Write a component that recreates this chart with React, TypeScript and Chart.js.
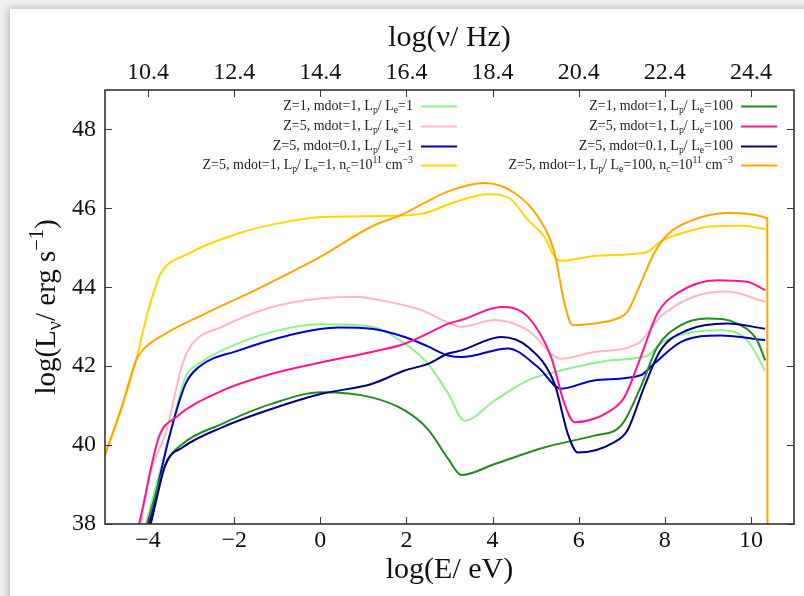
import React, { useEffect, useRef } from "react";
import { Chart, registerables } from "chart.js";

Chart.register(...registerables);

// ---------- data ----------
const xTicks = [-4, -2, 0, 2, 4, 6, 8, 10];
const xTickLabels = ["\u22124", "\u22122", "0", "2", "4", "6", "8", "10"];
const topTickLabels = ["10.4", "12.4", "14.4", "16.4", "18.4", "20.4", "22.4", "24.4"];
const yTicks = [38, 40, 42, 44, 46, 48];
const yTickLabels = ["38", "40", "42", "44", "46", "48"];

const seriesLabels = [
  "Z=1, mdot=1, L_{p}/ L_{e}=1",
  "Z=5, mdot=1, L_{p}/ L_{e}=1",
  "Z=5, mdot=0.1, L_{p}/ L_{e}=1",
  "Z=5, mdot=1, L_{p}/ L_{e}=1, n_{c}=10^{11} cm^{\u22123}",
  "Z=1, mdot=1, L_{p}/ L_{e}=100",
  "Z=5, mdot=1, L_{p}/ L_{e}=100",
  "Z=5, mdot=0.1, L_{p}/ L_{e}=100",
  "Z=5, mdot=1, L_{p}/ L_{e}=100, n_{c}=10^{11} cm^{\u22123}",
];
const seriesColors = ["#90ee90", "#ffb6c1", "#0000cd", "#ffd700", "#228b22", "#ff1493", "#000080", "#ffa500"];

const z1Lp1: number[][] = [
  [-4.2, 37.4], [-4.05, 38.0], [-3.51, 40.2], [-3.13, 41.72], [-2.82, 42.06], [-2.28, 42.4],
  [-1.12, 42.87], [0.03, 43.06], [1.19, 43.0], [1.96, 42.57], [2.5, 42.06], [2.97, 41.3],
  [3.35, 40.62], [4.05, 41.13], [4.82, 41.64], [5.59, 41.89], [6.75, 42.15], [7.6, 42.27],
  [7.9, 42.57], [8.67, 42.87], [9.29, 42.91], [9.91, 42.66], [10.33, 41.89],
];
const z5Lp1: number[][] = [
  [-4.25, 37.5], [-3.95, 39.3], [-3.59, 40.3], [-3.2, 42.06], [-2.97, 42.57], [-2.28, 43.0],
  [-1.12, 43.5], [0.03, 43.72], [0.8, 43.76], [1.58, 43.63], [2.35, 43.42], [2.97, 43.1],
  [3.28, 43.0], [4.05, 43.17], [4.82, 42.91], [5.59, 42.19], [6.36, 42.36], [7.37, 42.57],
  [7.9, 43.25], [8.67, 43.76], [9.45, 43.89], [10.33, 43.63],
];
const z5m01Lp1: number[][] = [
  [-4.15, 37.4], [-3.98, 38.0], [-3.51, 40.2], [-3.13, 41.55], [-2.82, 41.98], [-1.89, 42.4],
  [-0.74, 42.78], [0.42, 42.98], [1.19, 42.95], [1.96, 42.74], [2.5, 42.5], [2.97, 42.27],
  [3.28, 42.23], [4.36, 42.45], [5.05, 41.98], [5.59, 41.43], [6.36, 41.64], [7.44, 41.77],
  [7.75, 42.06], [8.37, 42.61], [9.29, 42.78], [10.33, 42.66],
];
const z5Lp1Nc: number[][] = [
  [-5.0, 39.75], [-4.6, 41.0], [-4.28, 42.15], [-4.0, 43.4], [-3.8, 44.1], [-3.71, 44.35],
  [-3.05, 44.86], [-1.89, 45.37], [-0.74, 45.67], [0.03, 45.78], [1.58, 45.81], [2.35, 45.86],
  [3.1, 46.15], [3.89, 46.36], [4.4, 46.25], [4.82, 45.71], [5.2, 45.28], [5.47, 44.73],
  [5.59, 44.67], [6.36, 44.79], [7.44, 44.86], [7.6, 44.9], [7.9, 45.16], [8.52, 45.41],
  [9.06, 45.54], [9.83, 45.56], [10.33, 45.47],
];
const z1Lp100: number[][] = [
  [-4.2, 37.3], [-4.02, 38.0], [-3.59, 39.52], [-3.2, 40.03], [-2.28, 40.54], [-1.12, 41.05],
  [0.03, 41.34], [1.19, 41.21], [1.96, 40.88], [2.5, 40.4], [2.97, 39.65], [3.28, 39.24],
  [4.05, 39.52], [5.2, 39.94], [6.36, 40.24], [6.98, 40.49], [7.44, 41.47], [7.83, 42.49],
  [8.37, 43.04], [8.98, 43.21], [9.68, 43.08], [10.14, 42.66], [10.33, 42.15],
];
const z5Lp100: number[][] = [
  [-4.4, 37.3], [-4.21, 38.0], [-3.75, 40.2], [-3.36, 40.7], [-2.28, 41.38], [-1.12, 41.81],
  [0.03, 42.1], [1.19, 42.36], [1.96, 42.57], [2.5, 42.83], [2.97, 43.08], [3.28, 43.17],
  [4.2, 43.5], [4.82, 43.25], [5.36, 42.23], [5.67, 41.05], [5.9, 40.58], [6.75, 40.88],
  [7.06, 41.21], [7.44, 42.23], [7.83, 43.34], [8.29, 43.85], [9.22, 44.18], [9.91, 44.14],
  [10.33, 43.93],
];
const z5m01Lp100: number[][] = [
  [-4.1, 37.4], [-3.94, 38.0], [-3.59, 39.52], [-3.2, 39.94], [-2.28, 40.45], [-1.12, 40.92],
  [0.03, 41.3], [1.19, 41.55], [1.96, 41.89], [2.5, 42.06], [2.97, 42.32], [3.28, 42.4],
  [4.2, 42.74], [4.82, 42.49], [5.44, 41.55], [5.75, 40.28], [5.98, 39.81], [6.82, 40.07],
  [7.13, 40.37], [7.52, 41.47], [7.9, 42.4], [8.52, 42.91], [9.45, 43.08], [10.33, 42.95],
];
const z5Lp100Nc: number[][] = [
  [-5.0, 39.75], [-4.6, 41.0], [-4.28, 42.15], [-4.13, 42.4], [-3.59, 42.83], [-2.66, 43.34],
  [-1.51, 43.93], [0.03, 44.79], [1.19, 45.54], [1.89, 45.84], [2.35, 46.1], [2.97, 46.43],
  [3.82, 46.64], [4.51, 46.39], [5.05, 45.79], [5.44, 44.86], [5.67, 43.59], [5.86, 43.04],
  [6.36, 43.08], [6.9, 43.21], [7.13, 43.38], [7.44, 44.1], [7.75, 44.86], [8.06, 45.33],
  [8.67, 45.71], [9.45, 45.88], [10.38, 45.75], [10.385, 36.0],
];

const seriesData = [z1Lp1, z5Lp1, z5m01Lp1, z5Lp1Nc, z1Lp100, z5Lp100, z5m01Lp100, z5Lp100Nc];

const xTitle = "log(E/ eV)";
const x2Title = "log(\u03bd/ Hz)";
const yTitle = "log(L_{\u03bd}/ erg s^{\u22121})";

const FONT = "'Liberation Serif', 'DejaVu Serif', serif";

// ---------- rich text helper ----------
type Seg = { t: string; m: "n" | "sub" | "sup" };
function parseRich(s: string): Seg[] {
  const out: Seg[] = [];
  let i = 0;
  let buf = "";
  while (i < s.length) {
    const c = s[i];
    if ((c === "_" || c === "^") && s[i + 1] === "{") {
      if (buf) { out.push({ t: buf, m: "n" }); buf = ""; }
      const end = s.indexOf("}", i + 2);
      out.push({ t: s.slice(i + 2, end), m: c === "_" ? "sub" : "sup" });
      i = end + 1;
    } else {
      buf += c;
      i++;
    }
  }
  if (buf) out.push({ t: buf, m: "n" });
  return out;
}
function richWidth(ctx: CanvasRenderingContext2D, segs: Seg[], size: number) {
  let w = 0;
  for (const s of segs) {
    ctx.font = `${s.m === "n" ? size : size * 0.7}px ${FONT}`;
    w += ctx.measureText(s.t).width;
  }
  return w;
}
function drawRich(ctx: CanvasRenderingContext2D, text: string, x: number, y: number, size: number, align: "right" | "center" | "left") {
  const segs = parseRich(text);
  const w = richWidth(ctx, segs, size);
  let cx = align === "right" ? x - w : align === "center" ? x - w / 2 : x;
  ctx.textAlign = "left";
  ctx.textBaseline = "alphabetic";
  for (const s of segs) {
    const fs = s.m === "n" ? size : size * 0.7;
    ctx.font = `${fs}px ${FONT}`;
    const dy = s.m === "sub" ? size * 0.22 : s.m === "sup" ? -size * 0.42 : 0;
    ctx.fillText(s.t, cx, y + dy);
    cx += ctx.measureText(s.t).width;
  }
}

// ---------- plugins ----------
const backgroundPlugin = {
  id: "bgCard",
  beforeDraw(chart: any) {
    const { ctx, width, height } = chart;
    ctx.save();
    ctx.fillStyle = "#f1f0ee";
    ctx.fillRect(0, 0, width, height);
    ctx.shadowColor = "rgba(0,0,0,0.28)";
    ctx.shadowBlur = 8;
    ctx.shadowOffsetX = -1;
    ctx.fillStyle = "#ffffff";
    ctx.fillRect(10, 9, width, height);
    ctx.restore();
  },
};

const framePlugin = {
  id: "frameTicks",
  afterDatasetsDraw(chart: any) {
    const { ctx, chartArea: a, scales } = chart;
    ctx.save();
    ctx.strokeStyle = "#3a3a3a";
    ctx.lineWidth = 1;
    const L = 7;
    ctx.beginPath();
    for (const v of xTicks) {
      const px = Math.round(scales.x.getPixelForValue(v)) + 0.5;
      ctx.moveTo(px, a.bottom); ctx.lineTo(px, a.bottom - L);
      ctx.moveTo(px, a.top); ctx.lineTo(px, a.top + L);
    }
    for (const v of yTicks) {
      const py = Math.round(scales.y.getPixelForValue(v)) + 0.5;
      ctx.moveTo(a.left, py); ctx.lineTo(a.left + L, py);
      ctx.moveTo(a.right, py); ctx.lineTo(a.right - L, py);
    }
    ctx.stroke();
    ctx.lineWidth = 1.6;
    ctx.strokeStyle = "#333";
    ctx.strokeRect(a.left, a.top, a.right - a.left, a.bottom - a.top);

    // y title (rotated, with sub/superscripts)
    ctx.fillStyle = "#111";
    ctx.translate(55, (a.top + a.bottom) / 2);
    ctx.rotate(-Math.PI / 2);
    drawRich(ctx, yTitle, 0, 0, 29, "center");
    ctx.restore();

    // legend
    ctx.save();
    ctx.fillStyle = "#222";
    const rows = [106, 126, 146, 165];
    const cols = [
      { textRight: 413, l0: 421, l1: 457 },
      { textRight: 733, l0: 741, l1: 777 },
    ];
    seriesLabels.forEach((lab, i) => {
      const col = cols[Math.floor(i / 4)];
      const ry = rows[i % 4];
      drawRich(ctx, lab, col.textRight, ry + 4, 14, "right");
      ctx.strokeStyle = seriesColors[i];
      ctx.lineWidth = 2;
      ctx.beginPath();
      ctx.moveTo(col.l0, ry + 0.5);
      ctx.lineTo(col.l1, ry + 0.5);
      ctx.stroke();
    });
    ctx.restore();
  },
};

export default function App() {
  const ref = useRef<HTMLCanvasElement | null>(null);

  useEffect(() => {
    if (!ref.current) return;
    const tickFont = { family: FONT, size: 24 };
    const chart = new Chart(ref.current, {
      type: "scatter",
      data: {
        datasets: seriesData.map((arr, i) => ({
          label: seriesLabels[i],
          data: arr.map(([x, y]) => ({ x, y })),
          showLine: true,
          borderColor: seriesColors[i],
          backgroundColor: seriesColors[i],
          borderWidth: 2,
          pointRadius: 0,
          pointHoverRadius: 0,
          cubicInterpolationMode: "monotone" as const,
          order: 7 - i,
          xAxisID: "x",
          yAxisID: "y",
        })),
      },
      options: {
        animation: false,
        responsive: false,
        maintainAspectRatio: false,
        events: [],
        layout: { padding: { left: 0, right: 10, top: 0, bottom: 0 } },
        plugins: {
          legend: { display: false },
          tooltip: { enabled: false },
        },
        scales: {
          x: {
            type: "linear",
            position: "bottom",
            min: -5,
            max: 11,
            grid: { display: false, drawTicks: false },
            border: { display: false },
            afterBuildTicks: (s: any) => { s.ticks = xTicks.map((v) => ({ value: v })); },
            afterFit: (s: any) => { s.height = 72; },
            ticks: {
              font: tickFont,
              color: "#111",
              padding: 2,
              maxRotation: 0,
              autoSkip: false,
              callback: (v: any) => xTickLabels[xTicks.indexOf(Number(v))] ?? "",
            },
            title: {
              display: true,
              text: xTitle,
              font: { family: FONT, size: 30 },
              color: "#111",
              padding: { top: 0, bottom: 8 },
            },
          },
          x2: {
            type: "linear",
            position: "top",
            min: -5,
            max: 11,
            grid: { display: false, drawTicks: false },
            border: { display: false },
            afterBuildTicks: (s: any) => { s.ticks = xTicks.map((v) => ({ value: v })); },
            afterFit: (s: any) => { s.height = 90; },
            ticks: {
              font: tickFont,
              color: "#111",
              padding: 3,
              maxRotation: 0,
              autoSkip: false,
              callback: (v: any) => topTickLabels[xTicks.indexOf(Number(v))] ?? "",
            },
            title: {
              display: true,
              text: x2Title,
              font: { family: FONT, size: 30 },
              color: "#111",
              padding: { top: 20, bottom: 0 },
            },
          },
          y: {
            type: "linear",
            position: "left",
            min: 38,
            max: 49,
            grid: { display: false, drawTicks: false },
            border: { display: false },
            afterBuildTicks: (s: any) => { s.ticks = yTicks.map((v) => ({ value: v })); },
            afterFit: (s: any) => { s.width = 105; },
            ticks: {
              font: tickFont,
              color: "#111",
              padding: 9,
              autoSkip: false,
              callback: (v: any) => yTickLabels[yTicks.indexOf(Number(v))] ?? "",
            },
          },
        },
      },
      plugins: [backgroundPlugin, framePlugin],
    });
    return () => chart.destroy();
  }, []);

  return (
    <div style={{ position: "fixed", left: 0, top: 0, width: 804, height: 596 }}>
      <canvas ref={ref} width={804} height={596} style={{ width: 804, height: 596, display: "block" }} />
    </div>
  );
}
